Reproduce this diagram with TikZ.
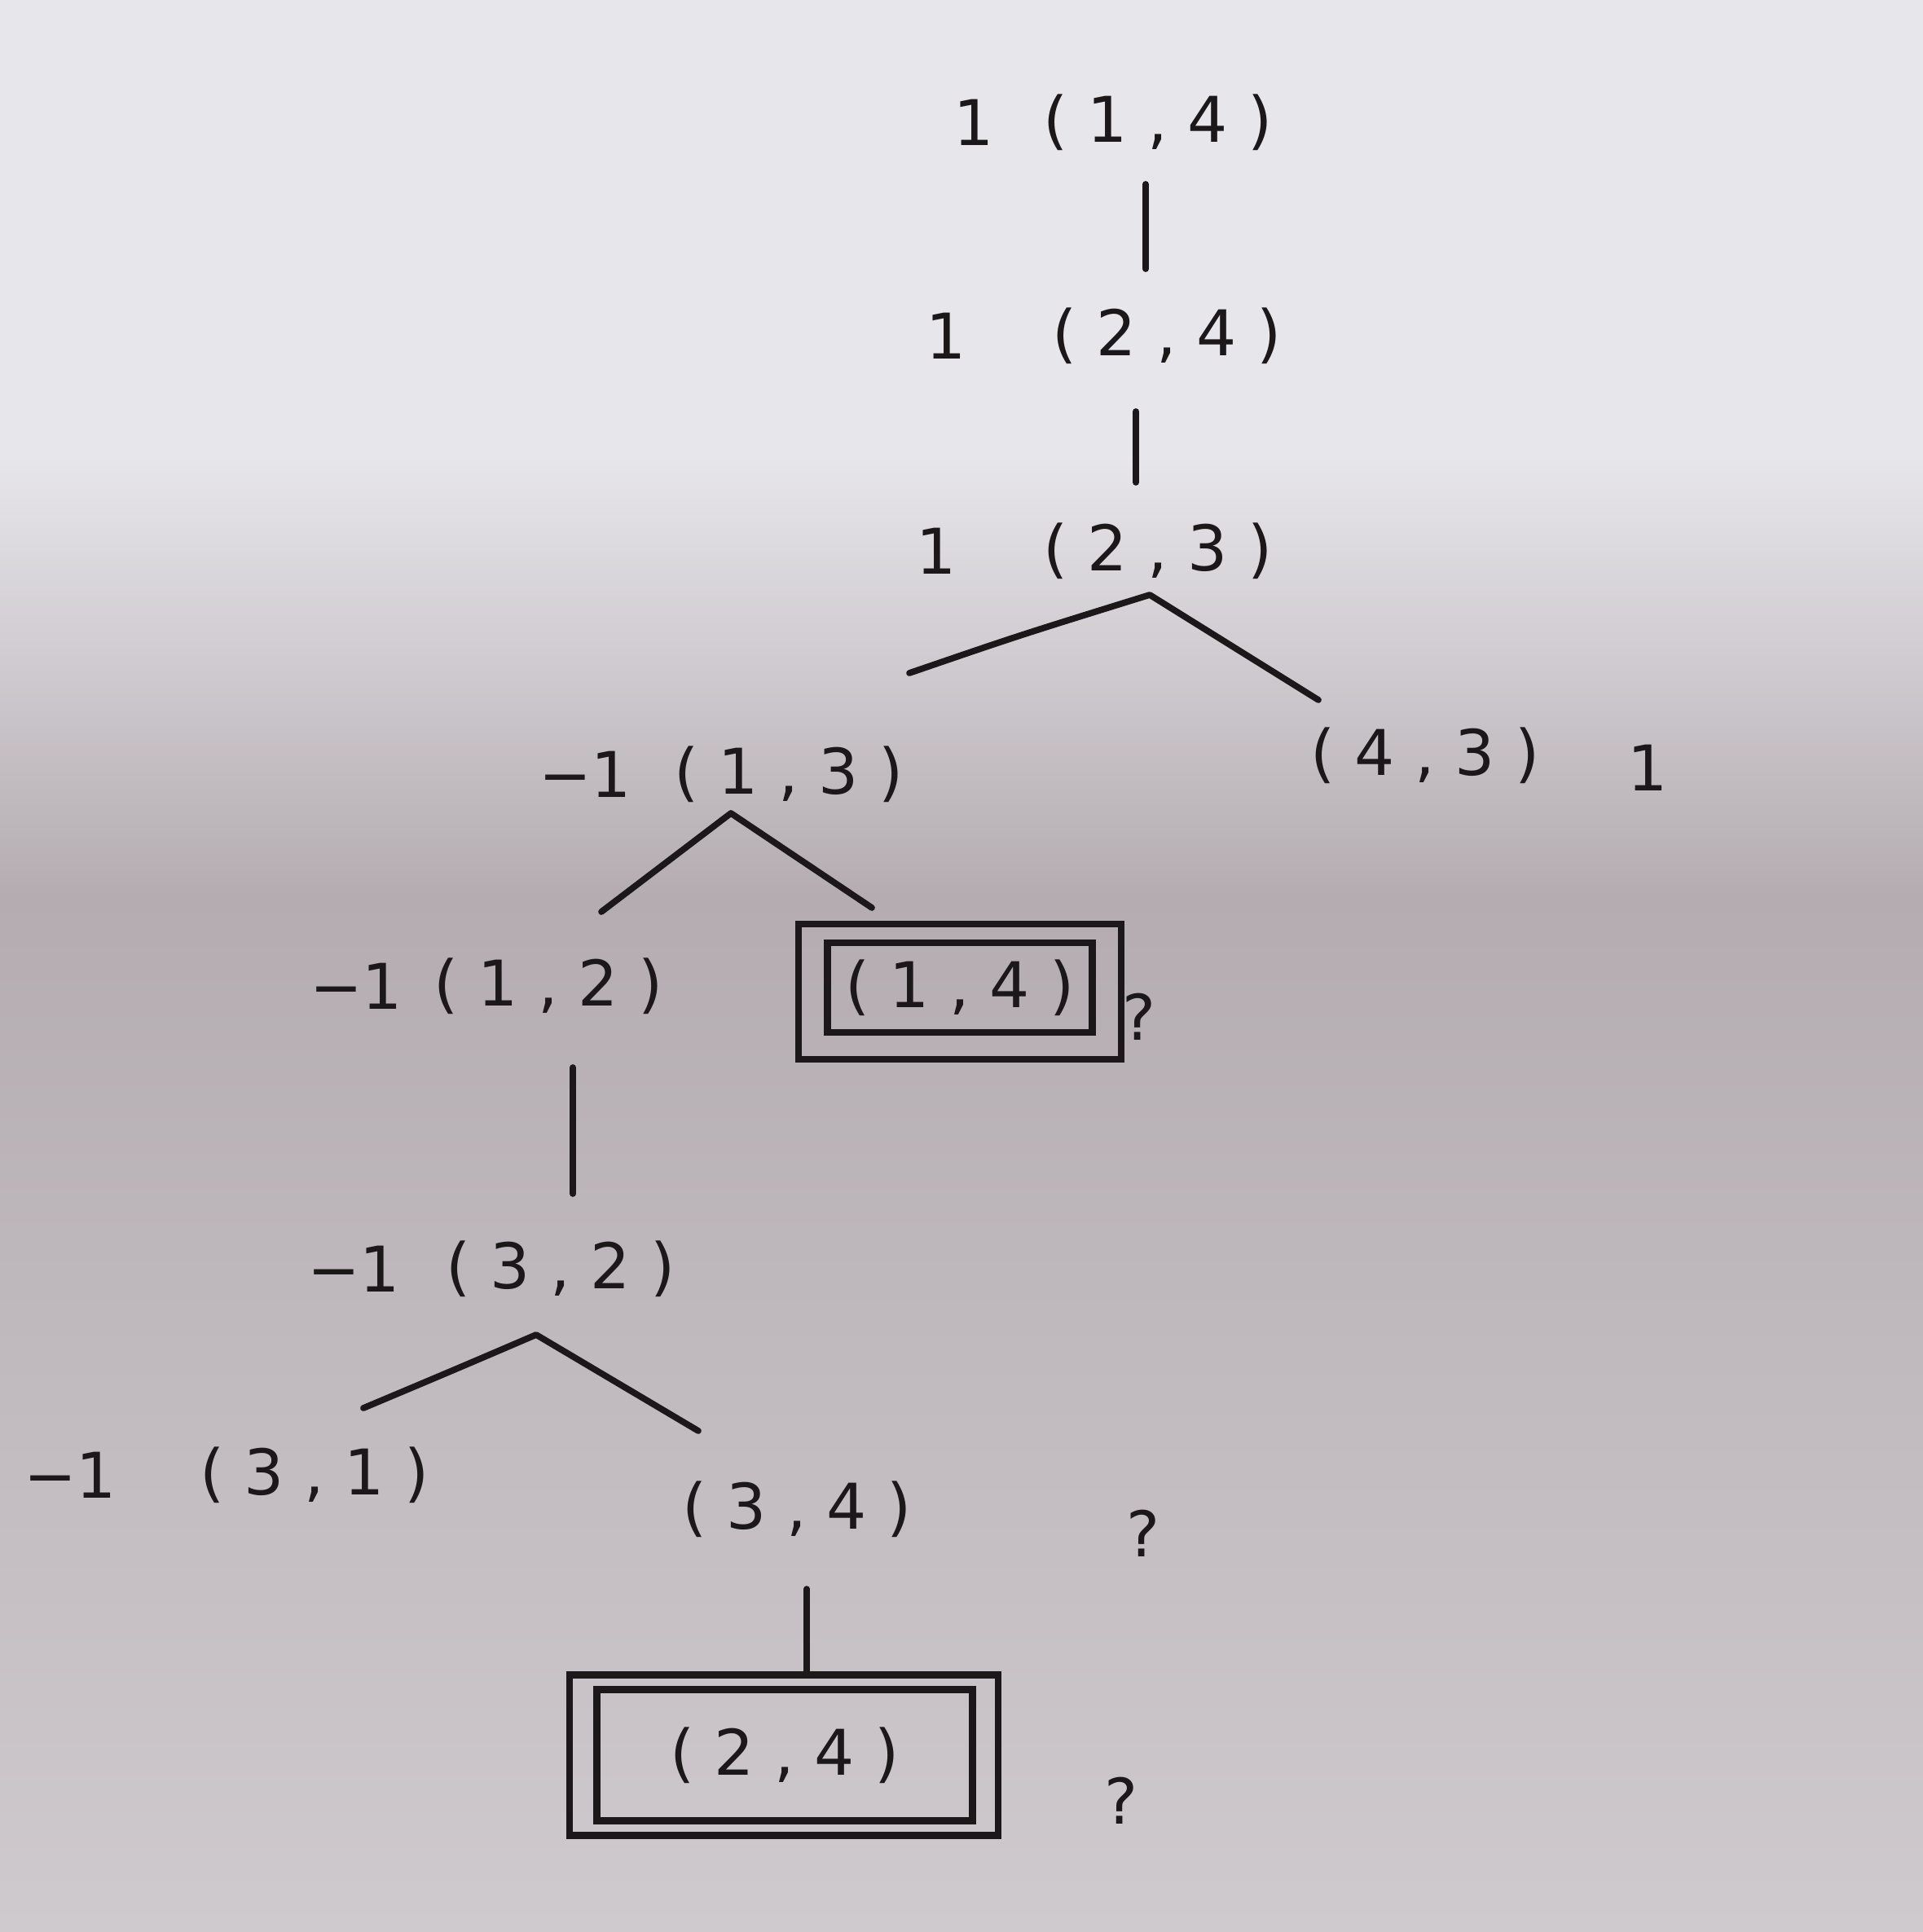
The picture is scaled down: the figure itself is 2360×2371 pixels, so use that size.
\documentclass[tikz,border=0pt]{standalone}
\usepackage{fontspec}
\setmainfont{DejaVu Sans}
\usetikzlibrary{calc}
\definecolor{paperA}{HTML}{E7E6EA}
\definecolor{paperB}{HTML}{B4ACB1}
\definecolor{paperC}{HTML}{CFCACE}
\definecolor{ink}{HTML}{1C1819}
\begin{document}
\begin{tikzpicture}[x=0.1mm,y=-0.1mm,
  lbl/.style={inner sep=0pt, text=ink, font=\fontsize{22}{26}\selectfont},
  edge/.style={draw=ink, line width=2.2pt, line cap=round, line join=round},
  innerbox/.style={draw=ink, line width=2.4pt, inner sep=0pt, text=ink, font=\fontsize{22}{26}\selectfont},
  outerbox/.style={draw=ink, line width=2.4pt, inner sep=0pt}]
% paper
\fill[paperA] (0,0) rectangle (2360,560);
\shade[top color=paperA, bottom color=paperB] (0,558) rectangle (2360,1100);
\shade[top color=paperB, bottom color=paperC] (0,1098) rectangle (2360,2371);
\useasboundingbox (0,0) rectangle (2360,2371);

% level 1
\node[lbl] (v1) at (1195,150) {1};
\node[lbl] (n14) at (1421,150) {( 1 , 4 )};
% level 2
\node[lbl] (v2) at (1161,412) {1};
\node[lbl] (n24) at (1432,412) {( 2 , 4 )};
% level 3
\node[lbl] (v3) at (1149,676) {1};
\node[lbl] (n23) at (1421,676) {( 2 , 3 )};
% level 4
\node[lbl] (v4) at (718,950) {−1};
\node[lbl] (n13) at (968,950) {( 1 , 3 )};
\node[lbl] (n43) at (1749,927) {( 4 , 3 )};
\node[lbl] (v43) at (2022,942) {1};
% level 5
\node[lbl] (v5) at (437,1210) {−1};
\node[lbl] (n12) at (673,1210) {( 1 , 2 )};
\node[innerbox, minimum width=32.5mm, minimum height=11mm] (b14) at (1178,1212) {( 1 , 4 )};
\node[outerbox, minimum width=39.6mm, minimum height=16.6mm] (b14o) at (1178,1217) {};
\node[lbl] (q1) at (1398,1248) {?};
% level 6
\node[lbl] (v6) at (434,1557) {−1};
\node[lbl] (n32) at (688,1557) {( 3 , 2 )};
% level 7
\node[lbl] (v7) at (86,1810) {−1};
\node[lbl] (n31) at (386,1810) {( 3 , 1 )};
\node[lbl] (n34) at (978,1852) {( 3 , 4 )};
\node[lbl] (q2) at (1403,1882) {?};
% level 8
\node[innerbox, minimum width=46.1mm, minimum height=16.1mm] (b24) at (963,2154) {( 2 , 4 )};
\node[outerbox, minimum width=52.6mm, minimum height=19.7mm] (b24o) at (962,2154) {};
\node[lbl] (q3) at (1376,2210) {?};

% connectors
\coordinate (t1) at (1406,226);
\coordinate (t2) at (1394,505);
\draw[edge] (t1) -- (t1 |- 0,330);
\draw[edge] (t2) -- (t2 |- 0,592);

\coordinate (a3) at (1411,730);
\coordinate (l3) at (1116,826);
\coordinate (r3) at (1618,859);
\draw[edge] (l3) .. controls (1250,780) .. (a3) -- (r3);

\coordinate (a4) at (897,998);
\coordinate (l4) at (738,1119);
\coordinate (r4) at (1070,1114);
\draw[edge] (l4) -- (a4) -- (r4);

\coordinate (t5) at (703,1310);
\draw[edge] (t5) -- (t5 |- 0,1465);

\coordinate (a6) at (658,1638);
\coordinate (l6) at (446,1728);
\coordinate (r6) at (857,1756);
\draw[edge] (l6) .. controls (560,1680) .. (a6) -- (r6);

\coordinate (t7) at (990,1950);
\draw[edge] (t7) -- (t7 |- b24o.north);
\end{tikzpicture}
\end{document}
